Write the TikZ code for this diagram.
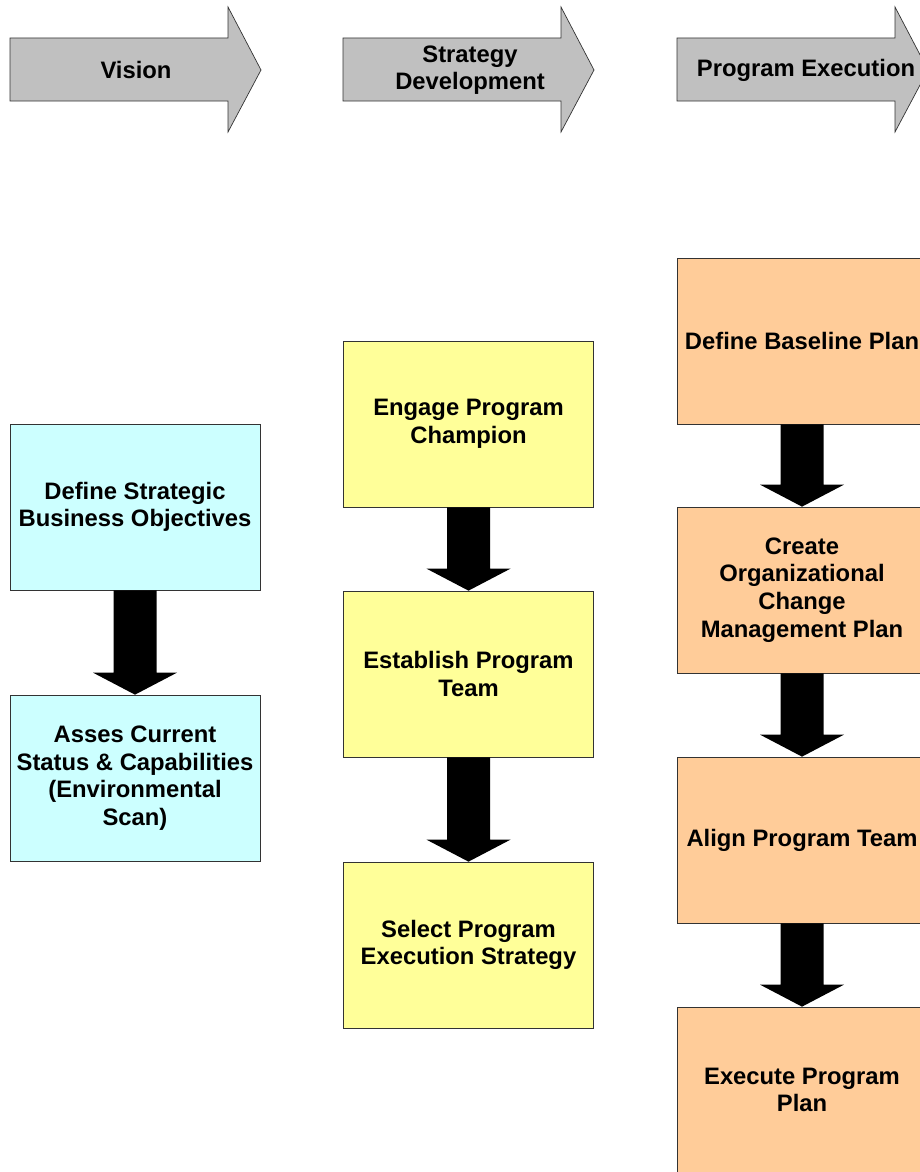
\documentclass[tikz,border=0pt]{standalone}
\usepackage{fontspec}
\setmainfont{Liberation Sans}
\usepackage{tikz}
\usetikzlibrary{calc}

\definecolor{headgray}{HTML}{C0C0C0}
\definecolor{visioncyan}{HTML}{CCFFFF}
\definecolor{strategyyellow}{HTML}{FFFF99}
\definecolor{executionorange}{HTML}{FFCC99}

\tikzset{
  header/.style={draw=black!80,line width=0.7pt,fill=headgray},
  stagebox/.style={draw=black!80,line width=0.7pt,minimum width=250pt,minimum height=166pt,
    inner sep=1pt,align=center,font=\bfseries\fontsize{23.8}{27.6}\selectfont},
  headlabel/.style={align=center,font=\bfseries\fontsize{23.8}{27.6}\selectfont}
}

% block arrow from the bottom of one box to the top of the next
\newcommand{\flowarrow}[2]{%
  \fill ($(#1.south)+(-21.5,0)$) -- ($(#2.north)+(-21.5,-22)$) -- ($(#2.north)+(-42,-22)$)
    -- (#2.north) -- ($(#2.north)+(42,-22)$) -- ($(#2.north)+(21.5,-22)$)
    -- ($(#1.south)+(21.5,0)$) -- cycle;}
% phase arrow at the top, #1 = left edge
\newcommand{\phasearrow}[1]{%
  \draw[header] (#1,38) -- ({#1+218},38) -- ({#1+218},7) -- ({#1+251},70)
    -- ({#1+218},132) -- ({#1+218},101) -- (#1,101) -- cycle;}

\begin{document}
\begin{tikzpicture}[x=1pt,y=-1pt]
  \useasboundingbox (0,0) rectangle (920,1172);
  \clip (0,0) rectangle (920,1172);
  % phase arrows
  \phasearrow{10}
  \phasearrow{343}
  \phasearrow{677}
  \node[headlabel] (vision) at (136,70) {Vision};
  \node[headlabel] (strategy) at (470,70) {Strategy\\Development};
  \node[headlabel] (execution) at (806,70) {Program Execution};
  % vision column
  \node[stagebox,fill=visioncyan] (objectives) at (135,507) {Define Strategic\\Business Objectives};
  \node[stagebox,fill=visioncyan] (scan) at (135,778) {Asses Current\\Status \& Capabilities\\(Environmental\\Scan)};
  % strategy column
  \node[stagebox,fill=strategyyellow] (champion) at (468.5,424) {Engage Program\\Champion};
  \node[stagebox,fill=strategyyellow] (team) at (468.5,674) {Establish Program\\Team};
  \node[stagebox,fill=strategyyellow] (select) at (468.5,945) {Select Program\\Execution Strategy};
  % execution column
  \node[stagebox,fill=executionorange] (baseline) at (802,341) {Define Baseline Plan};
  \node[stagebox,fill=executionorange] (change) at (802,590) {Create\\Organizational\\Change\\Management Plan};
  \node[stagebox,fill=executionorange] (align) at (802,840) {Align Program Team};
  \node[stagebox,fill=executionorange] (execute) at (802,1090) {Execute Program\\Plan};
  % arrows
  \flowarrow{objectives}{scan}
  \flowarrow{champion}{team}
  \flowarrow{team}{select}
  \flowarrow{baseline}{change}
  \flowarrow{change}{align}
  \flowarrow{align}{execute}
\end{tikzpicture}
\end{document}
